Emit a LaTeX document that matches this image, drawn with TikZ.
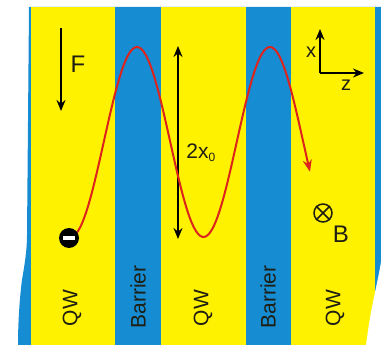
\documentclass[tikz,border=0pt]{standalone}
\usepackage{fontspec}
\setmainfont{Liberation Sans}
\usetikzlibrary{arrows.meta}
\definecolor{qwyellow}{RGB}{255,242,0}
\definecolor{barblue}{RGB}{22,140,210}
\definecolor{curvered}{RGB}{220,36,28}
\definecolor{txtdark}{RGB}{30,30,20}
\tikzset{
  lbl/.style={font=\fontsize{21}{24}\selectfont, text=txtdark, inner sep=0pt},
  layerlbl/.style={lbl, rotate=90},
  blackarrow/.style={draw=black, line width=1.6pt, -{Stealth[length=11pt,width=9pt]}},
  dblarrow/.style={draw=black, line width=1.6pt, {Stealth[length=11pt,width=9pt]}-{Stealth[length=11pt,width=9pt]}},
  trajectory/.style={draw=curvered, line width=2pt, -{Stealth[length=12pt,width=9pt]}},
}
\begin{document}
\begin{tikzpicture}[x=1pt,y=-1pt]
\useasboundingbox (0,0) rectangle (381,345);
\fill[white] (0,0) rectangle (381,345);
% blue background with torn left edge
\fill[barblue] (29,7) -- (381,7) -- (381,345) -- (18,345)
  .. controls (18,320) and (20,295) .. (22,280)
  .. controls (25,262) and (27,250) .. (27,235) -- cycle;
% quantum wells
\fill[qwyellow] (31,7) rectangle (115,345);
\fill[qwyellow] (161,7) rectangle (246,345);
\fill[qwyellow] (291,7) rectangle (375,345);
% torn bottom-right corner
\fill[white] (381,262) .. controls (378,280) and (373,300) .. (370,318)
  .. controls (368,330) and (367,338) .. (366,345) -- (381,345) -- cycle;
% layer labels
\node[layerlbl] (qw1) at (72,308) {QW};
\node[layerlbl] (bar1) at (138,297) {Barrier};
\node[layerlbl] (qw2) at (203,308) {QW};
\node[layerlbl] (bar2) at (268,297) {Barrier};
\node[layerlbl] (qw3) at (335,308) {QW};
% force
\coordinate (ftop) at (61,28);
\coordinate (fbot) at (61,111);
\draw[blackarrow] (ftop) -- (fbot);
\node[lbl, font=\fontsize{24}{28}\selectfont] (flbl) at (78,64) {F};
% amplitude arrow
\coordinate (atop) at (178,46);
\coordinate (abot) at (178,239);
\draw[dblarrow] (abot) -- (atop);
\node[lbl] (amp) at (201,153) {2x\textsubscript{\fontsize{12}{12}\selectfont 0}};
% axes
\coordinate (orig) at (320,73);
\coordinate (xend) at (320,29);
\coordinate (zend) at (364,73);
\draw[blackarrow] (orig) -- (xend);
\draw[blackarrow] (orig) -- (zend);
\node[lbl, font=\fontsize{20}{24}\selectfont] (xlbl) at (311,52) {x};
\node[lbl, font=\fontsize{20}{24}\selectfont] (zlbl) at (346,85) {z};
% magnetic field
\node[draw=txtdark, line width=1.5pt, circle, minimum size=18pt, inner sep=0pt] (bsym) at (323,213) {};
\draw[txtdark, line width=1.5pt] (bsym.north west) -- (bsym.south east);
\draw[txtdark, line width=1.5pt] (bsym.north east) -- (bsym.south west);
\node[lbl, font=\fontsize{24}{28}\selectfont] (blbl) at (341,234) {B};
% trajectory
\draw[trajectory] plot[domain=72:310, samples=120, smooth] (\x, {142-95*cos(2.70677*(\x-137))});
% electron
\node[fill=black, circle, minimum size=20pt, inner sep=0pt] (el) at (69,238) {};
\fill[white] ([xshift=-6pt,yshift=-2pt]el.center) rectangle ([xshift=6pt,yshift=2pt]el.center);
\end{tikzpicture}
\end{document}
